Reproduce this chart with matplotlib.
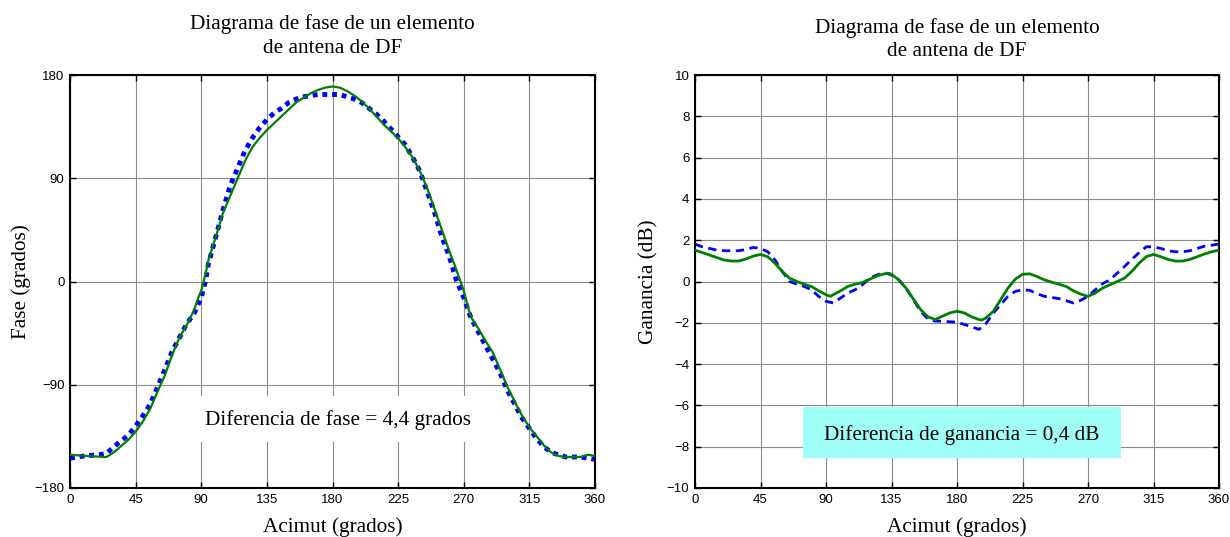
import numpy as np
import matplotlib
matplotlib.use("Agg")
import matplotlib.pyplot as plt
from matplotlib.patches import Rectangle

plt.rcParams['font.family'] = ['Liberation Serif', 'DejaVu Serif']
tick_font = ['Liberation Sans Narrow', 'Liberation Sans', 'DejaVu Sans']

# fase (grados) vs acimut
az_fase = [0, 10, 25, 30, 40, 45, 50, 55, 60, 65, 70, 75, 80, 85, 88, 90, 93, 95, 100, 105,
           110, 115, 120, 125, 130, 135, 140, 145, 150, 155, 160, 165, 170, 175, 180, 185,
           190, 195, 200, 205, 210, 215, 220, 225, 230, 235, 240, 245, 250, 255, 260, 265,
           270, 273, 275, 280, 285, 290, 295, 300, 305, 310, 315, 320, 325, 330, 335, 340,
           350, 355, 360]
fase_medida = [-151, -152, -153, -149, -138, -131, -122, -111, -96, -82, -64, -49, -38, -25,
               -14, -8, 7, 19, 39, 60, 75, 90, 105, 117, 125, 132, 138, 144, 150, 156, 160,
               164, 167, 169, 170, 169, 166, 162, 157, 151, 144, 137, 131, 125, 117, 108, 96,
               81, 63, 45, 27, 10, -8, -23, -31, -41, -52, -62, -77, -92, -105, -117, -127,
               -135, -143, -149, -152, -153, -153, -151, -152]

az_fase_sim = [0, 10, 20, 25, 30, 40, 45, 50, 55, 60, 65, 70, 75, 80, 85, 90, 93, 95, 100,
               105, 110, 115, 120, 125, 130, 135, 140, 145, 150, 155, 160, 165, 170, 175, 180,
               185, 190, 195, 200, 205, 210, 215, 220, 225, 230, 235, 240, 245, 250, 255, 260,
               265, 270, 275, 280, 285, 290, 295, 300, 305, 310, 315, 320, 325, 330, 335, 340,
               350, 360]
fase_sim = [-154, -152, -151, -150, -144, -134, -126, -117, -107, -92, -77, -61, -49, -37,
            -28, -14, 1, 16, 39, 63, 84, 99, 114, 125, 134, 141, 147, 151, 156, 159, 161, 162,
            163, 163, 163, 163, 161, 159, 156, 151, 146, 140, 133, 126, 119, 108, 96, 78, 60,
            39, 22, 1, -14, -32, -44, -56, -68, -80, -95, -107, -119, -128, -137, -144, -149,
            -151, -153, -153, -155]

# ganancia (dB) vs acimut
az_gan = [0, 10, 20, 25, 30, 35, 40, 45, 50, 55, 60, 65, 70, 75, 80, 85, 90, 93, 95, 100,
          105, 110, 115, 120, 125, 130, 133, 135, 140, 145, 150, 155, 160, 165, 170, 175, 180,
          185, 190, 195, 197, 200, 205, 210, 215, 220, 225, 230, 235, 240, 245, 250, 255, 260,
          265, 270, 275, 280, 285, 290, 295, 300, 305, 310, 315, 320, 325, 330, 335, 340, 345,
          350, 355, 360]
gan_medida = [1.52, 1.28, 1.04, 0.99, 0.99, 1.09, 1.23, 1.31, 1.20, 0.88, 0.48, 0.16, 0.0,
              -0.13, -0.24, -0.45, -0.64, -0.72, -0.64, -0.45, -0.24, -0.13, -0.05, 0.11, 0.27,
              0.37, 0.40, 0.35, 0.08, -0.32, -0.85, -1.36, -1.71, -1.84, -1.68, -1.52, -1.44,
              -1.52, -1.71, -1.84, -1.87, -1.76, -1.44, -0.88, -0.32, 0.11, 0.35, 0.37, 0.24,
              0.08, -0.03, -0.13, -0.24, -0.45, -0.61, -0.72, -0.56, -0.32, -0.16, 0.0, 0.16,
              0.48, 0.88, 1.20, 1.31, 1.20, 1.07, 0.99, 0.99, 1.07, 1.20, 1.33, 1.44, 1.52]

az_gan_sim = [0, 5, 10, 15, 20, 30, 35, 40, 45, 50, 55, 60, 65, 70, 75, 80, 85, 90, 95, 100,
              105, 110, 115, 120, 125, 130, 135, 140, 145, 150, 155, 160, 165, 170, 175, 180,
              185, 190, 195, 200, 205, 210, 215, 220, 225, 230, 235, 240, 245, 250, 255, 260,
              265, 270, 275, 280, 285, 290, 295, 300, 305, 310, 315, 320, 325, 330, 335, 340,
              345, 350, 355, 360]
gan_sim = [1.81, 1.68, 1.60, 1.52, 1.49, 1.49, 1.55, 1.65, 1.60, 1.44, 1.04, 0.48, 0.0,
           -0.13, -0.24, -0.40, -0.72, -0.96, -1.04, -0.80, -0.56, -0.40, -0.16, 0.16, 0.32,
           0.43, 0.32, 0.08, -0.32, -0.88, -1.44, -1.81, -1.92, -1.92, -1.95, -1.97, -2.08,
           -2.19, -2.32, -2.03, -1.52, -1.12, -0.72, -0.48, -0.40, -0.43, -0.59, -0.72, -0.77,
           -0.83, -0.93, -1.04, -0.91, -0.72, -0.40, -0.11, 0.08, 0.40, 0.72, 1.07, 1.39, 1.68,
           1.68, 1.60, 1.49, 1.44, 1.44, 1.49, 1.60, 1.71, 1.76, 1.81]

titulo = "Diagrama de fase de un elemento\nde antena de DF"
verde = '#008000'
azul = '#0000ff'
fs = 15.3

fig = plt.figure(figsize=(12.3, 5.37), dpi=100)
ax1 = fig.add_axes([70/1230, 49/537, 525/1230, 413/537])
ax2 = fig.add_axes([695/1230, 49/537, 524/1230, 413/537])


def estilo(ax, yticks, ylabel, ylx, ty):
    ax.set_xlim(0, 360)
    ax.set_xticks(np.arange(0, 361, 45))
    ax.set_yticks(yticks)
    ax.set_ylim(yticks[0], yticks[-1])
    ax.set_axisbelow(True)
    ax.grid(True, color='0.55', lw=0.8)
    ax.tick_params(direction='in', top=True, right=True, length=4, width=1, pad=4,
                   labelsize=9.5)
    for lab in ax.get_xticklabels() + ax.get_yticklabels():
        lab.set_family(tick_font)
    for sp in ax.spines.values():
        sp.set_linewidth(1.5)
    ax.text(0.5, ty, titulo, transform=ax.transAxes, ha='center', va='center',
            fontsize=fs, linespacing=1.32)
    ax.set_xlabel("Acimut (grados)", fontsize=fs)
    ax.xaxis.set_label_coords(0.5, -0.07)
    ax.set_ylabel(ylabel, fontsize=fs)
    ax.yaxis.set_label_coords(ylx, 0.5)


estilo(ax1, [-180, -90, 0, 90, 180], "Fase (grados)", -0.074, 1.094)
ax1.plot(az_fase_sim, fase_sim, color=azul, lw=3.5, ls=(0, (1, 1)), zorder=2)
ax1.plot(az_fase, fase_medida, color=verde, lw=1.6, zorder=3)
ax1.add_patch(Rectangle((0.248, 0.111), 0.52, 0.111, transform=ax1.transAxes,
                        facecolor='white', edgecolor='none', zorder=1))
ax1.text(0.51, 0.165, "Diferencia de fase = 4,4 grados", transform=ax1.transAxes,
         ha='center', va='center', fontsize=fs, zorder=4)

estilo(ax2, list(range(-10, 11, 2)), "Ganancia (dB)", -0.069, 1.086)
ax2.plot(az_gan_sim, gan_sim, color=azul, lw=2, ls=(0, (3, 2)), zorder=2)
ax2.plot(az_gan, gan_medida, color=verde, lw=2, zorder=3)
ax2.add_patch(Rectangle((0.206, 0.073), 0.607, 0.122, transform=ax2.transAxes,
                        facecolor='#a0fff8', edgecolor='none', zorder=1))
ax2.text(0.5095, 0.128, "Diferencia de ganancia = 0,4 dB", transform=ax2.transAxes,
         ha='center', va='center', fontsize=fs, zorder=4)

fig.savefig("out.png", dpi=100)
